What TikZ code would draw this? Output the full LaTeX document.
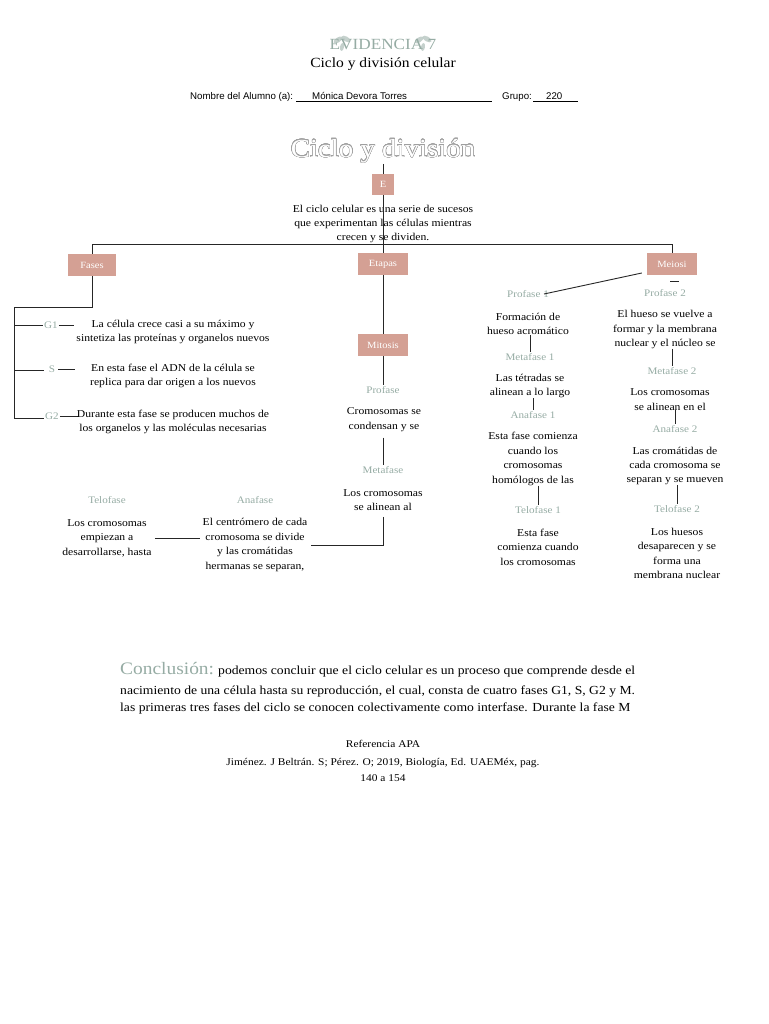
\documentclass[tikz,border=0pt]{standalone}
\usepackage{fontspec}
\setmainfont{Liberation Serif}[FakeStretch=1.11]
\newfontfamily\hdsans{Liberation Sans}
\usepackage[copies]{contour}
\contourlength{0.35pt}
\contournumber{24}
\definecolor{pinkbox}{RGB}{212,160,148}
\definecolor{sage}{RGB}{150,172,164}
\tikzset{
  box/.style={fill=pinkbox, text=white, minimum height=22pt, minimum width=48pt, inner sep=0pt, font=\fontsize{9.5}{10}\selectfont},
  lab/.style={text=sage, font=\fontsize{10}{12}\selectfont, inner sep=1pt},
  txt/.style={align=center, font=\fontsize{10.5}{14.4}\selectfont, inner sep=0pt},
  conn/.style={draw=black!85, line width=0.9pt},
  hd/.style={font=\hdsans\fontsize{9.7}{10}\selectfont, inner sep=0pt},
  leaf/.style={fill=sage, fill opacity=0.55, draw=none},
}
\begin{document}
\begin{tikzpicture}[x=1pt,y=-1pt]
\useasboundingbox[fill=white] (0,0) rectangle (768,1024);

% header
\node[text=sage, font=\fontsize{15.5}{16}\selectfont, inner sep=0pt] (evid) at (383,44) {EVIDENCIA 7};
% leaf sprigs over the letters
\fill[leaf, rotate around={35:(338,40)}] (338,40) ellipse (5 and 2.5);
\fill[leaf, rotate around={-30:(346,39)}] (346,39) ellipse (5 and 2.5);
\fill[leaf, rotate around={80:(342,47)}] (342,47) ellipse (4 and 2);
\fill[leaf, rotate around={35:(419,40)}] (419,40) ellipse (5 and 2.5);
\fill[leaf, rotate around={-30:(427,39)}] (427,39) ellipse (5 and 2.5);
\fill[leaf, rotate around={80:(423,47)}] (423,47) ellipse (4 and 2);
\node[font=\fontsize{14}{14}\selectfont, inner sep=0pt] (sub) at (383,64) {Ciclo y división celular};
\node[hd, anchor=base west] (nom) at (190,99.5) {Nombre del Alumno (a):};
\node[hd, anchor=base west] (alu) at (312,99.5) {Mónica Devora Torres};
\node[hd, anchor=base west] (gru) at (502,99.5) {Grupo:};
\node[hd, anchor=base west] (num) at (546,99.5) {220};
\draw[line width=0.6pt] (296,101) -- (492,101);
\draw[line width=0.6pt] (533,101) -- (578,101);

% title
\node[inner sep=0pt] (title) at (383,151) {\fontsize{26}{26}\selectfont\contour{gray!75}{\textcolor{white}{Ciclo y división}}};
\coordinate (t1) at (383,164);

% E
\node[box, minimum width=22pt, minimum height=21pt] (E) at (383,184.5) {E};
\node[txt] (desc) at (383,224) {El ciclo celular es una serie de sucesos\\que experimentan las células mientras\\crecen y se dividen.};
\coordinate (busc) at (383,245);
\draw[conn] (t1) -- (E.north);
\draw[conn] (E.south) -- (busc);

% level 1 boxes
\node[box] (Fases) at (92,265) {Fases};
\node[box, minimum width=50pt] (Etapas) at (383,264) {Etapas};
\node[box, minimum width=50pt] (Meiosi) at (672,264) {Meiosi};
\draw[conn] (Fases.north) -- ++(0,-9) -| (Meiosi.north);
\draw[conn] (busc) -- (Etapas.north);

% Fases branch
\coordinate (f1) at (92,307);
\coordinate (f2) at (14,307);
\coordinate (fb1) at (14,325);
\coordinate (fb2) at (14,370);
\coordinate (fb3) at (14,418);
\draw[conn] (Fases.south) -- (f1) -- (f2) -- (fb3);
\node[lab] (G1) at (51,325) {G1};
\node[lab] (S) at (52,369) {S};
\node[lab] (G2) at (52,416) {G2};
\draw[conn] (fb1) -- (G1.west);
\draw[conn] (fb2) -- ++(30,0);
\draw[conn] (fb3) -- (G2.west |- fb3);
\draw[conn] (G1.east) -- ++(15,0);
\draw[conn] (S.east) ++(2,0) -- ++(17,0);
\draw[conn] (G2.east) -- ++(18,0);
\node[txt] (G1t) at (173,332) {La célula crece casi a su máximo y\\sintetiza las proteínas y organelos nuevos};
\node[txt] (St) at (173,376) {En esta fase el ADN de la célula se\\replica para dar origen a los nuevos};
\node[txt] (G2t) at (173,422) {Durante esta fase se producen muchos de\\los organelos y las moléculas necesarias};

% Mitosis branch
\node[box, minimum width=50pt] (Mitosis) at (383,345) {Mitosis};
\draw[conn] (Etapas.south) -- (Mitosis.north);
\node[lab] (Pro) at (383,390) {Profase};
\node[txt] (Prot) at (384,419.5) {Cromosomas se\\condensan y se};
\node[lab] (Met) at (383,470) {Metafase};
\node[txt] (Mett) at (383,500) {Los cromosomas\\se alinean al};
\node[lab] (Ana) at (255,500) {Anafase};
\node[txt] (Anat) at (255,545) {El centrómero de cada\\cromosoma se divide\\y las cromátidas\\hermanas se separan,};
\node[lab] (Tel) at (107,500) {Telofase};
\node[txt] (Telt) at (107,538) {Los cromosomas\\empiezan a\\desarrollarse, hasta};
\draw[conn] (Mitosis.south) -- (Pro.north);
\draw[conn] (Met.north |- Prot.south) ++(0,6) -- (Met.north);
\draw[conn] ([yshift=-6pt]Mett.south) |- ([xshift=4pt]Anat.east);
\draw[conn] ([xshift=3pt]Telt.east) -- ([xshift=-3pt]Telt.east -| Anat.west);

% Meiosis column 1
\node[lab] (P1) at (528,294) {Profase 1};
\node[txt] (P1t) at (528,324) {Formación de\\hueso acromático};
\node[lab] (M1) at (530,357) {Metafase 1};
\node[txt] (M1t) at (530,386) {Las tétradas se\\alinean a lo largo};
\node[lab] (A1) at (533,415) {Anafase 1};
\node[txt] (A1t) at (533,459) {Esta fase comienza\\cuando los\\cromosomas\\homólogos de las};
\node[lab] (T1) at (538,510) {Telofase 1};
\node[txt] (T1t) at (538,547) {Esta fase\\comienza cuando\\los cromosomas};
\draw[conn] ([xshift=-5pt,yshift=-9pt]Meiosi.west) -- ([xshift=-6pt]P1.east);
\draw[conn] (M1.north |- P1t.south) -- (M1.north);
\draw[conn] (A1.north |- M1t.south) -- (A1.north);
\draw[conn] (T1.north |- A1t.south) -- (T1.north);

% Meiosis column 2
\node[lab] (P2) at (665,293) {Profase 2};
\node[txt] (P2t) at (665,329.5) {El hueso se vuelve a\\formar y la membrana\\nuclear y el núcleo se};
\node[lab] (M2) at (672,371) {Metafase 2};
\node[txt] (M2t) at (670,399.5) {Los cromosomas\\se alinean en el};
\node[lab] (A2) at (675,429) {Anafase 2};
\node[txt] (A2t) at (675,466) {Las cromátidas de\\cada cromosoma se\\separan y se mueven};
\node[lab] (T2) at (677,509) {Telofase 2};
\node[txt] (T2t) at (677,553.5) {Los huesos\\desaparecen y se\\forma una\\membrana nuclear};
\coordinate (m2a) at (670,281);
\coordinate (m2b) at (679,281);
\draw[conn] (m2a) -- (m2b);
\draw[conn] (P2t.south -| M2) -- (M2.north);
\draw[conn] (M2t.south -| A2) -- (A2.north);
\draw[conn] (A2t.south -| T2) -- (T2.north);

% conclusion
\node[text=sage, font=\fontsize{17.5}{18}\selectfont, anchor=base west, inner sep=0pt] (conc) at (120,674) {Conclusión:};
\node[anchor=base west, inner sep=0pt, font=\fontsize{12.3}{13}\selectfont] (c1) at (218,674) {podemos concluir que el ciclo celular es un proceso que comprende desde el};
\node[anchor=base west, inner sep=0pt, font=\fontsize{12.3}{13}\selectfont] (c2) at (120,694) {nacimiento de una célula hasta su reproducción, el cual, consta de cuatro fases G1, S, G2 y M.};
\node[anchor=base west, inner sep=0pt, font=\fontsize{12.3}{13}\selectfont] (c3) at (120,711) {las primeras tres fases del ciclo se conocen colectivamente como interfase. Durante la fase M};

% references
\node[inner sep=0pt, font=\fontsize{10.3}{12}\selectfont] (ref) at (383,744) {Referencia APA};
\node[inner sep=0pt, align=center, font=\fontsize{10.3}{15.5}\selectfont] (refb) at (383,770) {Jiménez. J Beltrán. S; Pérez. O; 2019, Biología, Ed. UAEMéx, pag.\\140 a 154};
\end{tikzpicture}
\end{document}
